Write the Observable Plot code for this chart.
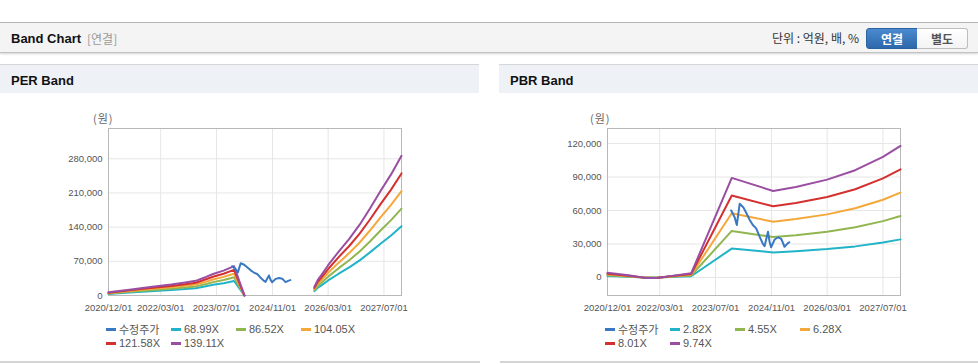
<!DOCTYPE html>
<html><head><meta charset="utf-8">
<script src="https://cdn.jsdelivr.net/npm/d3@7"></script>
<script src="https://cdn.jsdelivr.net/npm/@observablehq/plot@0.6"></script>
<style>
body{margin:0;width:978px;height:364px;overflow:hidden;background:#fff;position:relative;font-family:"Liberation Sans",Arial,"Noto Sans CJK KR",sans-serif;}
.abs{position:absolute;white-space:nowrap;}
.hdr{left:0;top:22px;width:978px;height:29px;background:#f4f4f4;border-top:1px solid #b5b5b5;border-bottom:1px solid #c2c2c2;box-shadow:0 1px 2px rgba(0,0,0,0.18);}
.ttl{font-weight:bold;font-size:13px;color:#111;}
.ptitle{top:64px;width:479px;height:28px;background:#eef2f7;border-top:1px solid #d6d6d6;}
.btn{top:28px;height:19px;width:50px;font-size:12px;font-weight:bold;text-align:center;line-height:19px;}
.unit{font-family:"Noto Sans CJK KR","Liberation Sans",sans-serif;font-size:11px;color:#666;letter-spacing:1px;}
.leg{font-size:11px;color:#555;display:flex;align-items:center;height:14px;}
.leg span.sw{display:inline-block;width:10px;height:3px;margin-right:3px;}
.sep{top:361px;height:2px;background:#d4d4d4;}
</style></head><body>
<div class="abs hdr"></div>
<div class="abs ttl" style="left:11px;top:23px;line-height:31px;">Band Chart</div>
<div class="abs" style="left:87px;top:23px;line-height:31px;font-size:12px;color:#999;font-family:'Noto Sans CJK KR',sans-serif;">[연결]</div>
<div class="abs" style="right:119px;top:22px;line-height:31px;font-size:12px;color:#333;font-family:'Noto Sans CJK KR',sans-serif;">단위 : 억원, 배, %</div>
<div class="abs btn" style="left:866px;background:linear-gradient(#4b8ad0,#2d68aa);border:1px solid #2b62a0;border-radius:3px 0 0 3px;color:#fff;font-family:'Noto Sans CJK KR',sans-serif;">연결</div>
<div class="abs btn" style="left:917px;background:linear-gradient(#fff,#f3f3f3);border:1px solid #bdbdbd;border-left:none;border-radius:0 3px 3px 0;color:#555;font-family:'Noto Sans CJK KR',sans-serif;">별도</div>

<div class="abs ptitle" style="left:0;"></div>
<div class="abs ttl" style="left:11px;top:67px;line-height:28px;">PER Band</div>
<div class="abs ptitle" style="left:499px;"></div>
<div class="abs ttl" style="left:510px;top:67px;line-height:28px;">PBR Band</div>

<div class="abs unit" style="left:93px;top:110px;">(원)</div>
<div class="abs unit" style="left:590px;top:110px;">(원)</div>

<div id="perChart" class="abs" style="left:0;top:100px;"></div>
<div id="pbrChart" class="abs" style="left:499px;top:100px;"></div>
<div id="perLegend" class="abs" style="left:106px;top:322px;width:270px;"></div>
<div id="pbrLegend" class="abs" style="left:605px;top:322px;width:270px;"></div>

<div class="abs sep" style="left:0;width:480px;"></div>
<div class="abs sep" style="left:500px;width:478px;"></div>

<script>
// ---------- shared ----------
const xTickLabels = ["2020/12/01","2022/03/01","2023/07/01","2024/11/01","2026/03/01","2027/07/01"];
const xStart = "2020-12-01", xEnd = "2027-12-01";

// adjusted stock price (수정주가)
const priceDates = ["2023-11-15","2023-12-15","2024-01-03","2024-01-15","2024-01-28","2024-02-28","2024-03-25","2024-04-22","2024-05-22","2024-06-20","2024-07-18","2024-08-18","2024-09-01","2024-10-01","2024-10-15","2024-10-28","2024-11-28","2024-12-28","2025-01-25","2025-02-22","2025-03-22","2025-04-05"];
const priceValues = [60000,54000,47000,56000,66000,63000,58000,52000,47000,44000,37000,30000,28000,41000,32000,27000,34000,36000,34500,27500,30500,31500];

// ---------- PER band ----------
const perNames = ["수정주가","68.99X","86.52X","104.05X","121.58X","139.11X"];
const perYTicks = [0,70000,140000,210000,280000];
const perDatesA = ["2020-12-01","2021-06-01","2021-12-01","2022-06-01","2022-10-01","2023-01-01","2023-04-01","2023-06-01","2023-09-01","2023-11-01","2023-12-01","2024-03-01"];
const perDatesB = ["2025-11-01","2025-12-01","2026-01-01","2026-03-01","2026-06-01","2026-09-01","2026-12-01","2027-03-01","2027-06-01","2027-09-01","2027-12-01"];
const per6899A  = [3220,5950,8680,11160,13140,14880,18850,21820,25300,28270,29760,0];
const per8652A  = [4040,7460,10890,14000,16480,18660,23640,27370,31720,35450,37320,0];
const per10405A = [4860,8980,13090,16830,19820,22440,28420,32910,38150,42640,44880,0];
const per12158A = [5680,10490,15300,19670,23160,26220,33210,38460,44570,49820,52440,0];
const per13911A = [6500,12000,17500,22500,26500,30000,38000,44000,51000,57000,60000,0];
const per6899B  = [8900,15900,20800,30800,44600,57500,71900,88300,106100,123000,141900];
const per8652B  = [11200,19900,26100,38600,56000,72200,90200,110700,133100,154300,177900];
const per10405B = [13500,23900,31400,46400,67300,86800,108500,133100,160100,185500,213900];
const per12158B = [15700,28000,36700,54200,78700,101400,126700,155600,187000,216800,250000];
const per13911B = [18000,32000,42000,62000,90000,116000,145000,178000,214000,248000,286000];

// ---------- PBR band ----------
const pbrNames = ["수정주가","2.82X","4.55X","6.28X","8.01X","9.74X"];
const pbrYTicks = [0,30000,60000,90000,120000];
const pbrDates = ["2020-12-01","2021-06-01","2021-11-01","2022-02-01","2022-06-01","2022-12-01","2023-11-20","2024-11-15","2025-06-01","2026-03-01","2026-11-01","2027-07-01","2027-12-01"];
const pbr282 = [1180,560,-140,-170,340,1070,25830,22450,23490,25380,27830,31270,34120];
const pbr455 = [1910,910,-230,-270,550,1730,41680,36220,37900,40950,44910,50460,55060];
const pbr628 = [2640,1260,-310,-380,750,2390,57530,49990,52310,56520,61980,69650,75990];
const pbr801 = [3360,1600,-400,-480,960,3040,73370,63760,66720,72090,79060,88830,96920];
const pbr974 = [4090,1950,-490,-580,1170,3700,89220,77530,81130,87660,96130,108020,117850];

const seriesColors = ["#3a78c2","#21b3c7","#91b650","#f4a83a","#d3302f","#9a4ea1"];

// ---------- build rows ----------
function seg(name, dates, vals){ return dates.map((d,i)=>({series:name, date:new Date(d), value:vals[i]})); }
function gapped(name, dA, vA, dB, vB){
  return [...seg(name,dA,vA), {series:name, date:new Date("2025-01-01"), value:NaN}, ...seg(name,dB,vB)];
}
const perRows = [
  ...gapped(perNames[1], perDatesA, per6899A, perDatesB, per6899B),
  ...gapped(perNames[2], perDatesA, per8652A, perDatesB, per8652B),
  ...gapped(perNames[3], perDatesA, per10405A, perDatesB, per10405B),
  ...gapped(perNames[4], perDatesA, per12158A, perDatesB, per12158B),
  ...gapped(perNames[5], perDatesA, per13911A, perDatesB, per13911B),
  ...seg(perNames[0], priceDates, priceValues)
];
const pbrRows = [
  ...seg(pbrNames[1], pbrDates, pbr282),
  ...seg(pbrNames[2], pbrDates, pbr455),
  ...seg(pbrNames[3], pbrDates, pbr628),
  ...seg(pbrNames[4], pbrDates, pbr801),
  ...seg(pbrNames[5], pbrDates, pbr974),
  ...seg(pbrNames[0], priceDates, priceValues)
];

const xTicks = xTickLabels.map(s => new Date(s.replace(/\//g,"-")));

function chart(rows, names, yDomain, yTicks){
  return Plot.plot({
    width: 479, height: 220,
    marginLeft: 108, marginRight: 78, marginTop: 28, marginBottom: 25,
    style: {fontFamily: "'Liberation Sans', Arial, sans-serif", fontSize: "9.5px", color: "#555", background: "transparent", overflow: "visible"},
    x: {type: "utc", domain: [new Date(xStart), new Date(xEnd)], ticks: xTicks, tickFormat: d3.utcFormat("%Y/%m/%d"), label: null, tickSize: 0, tickPadding: 9},
    y: {domain: yDomain, ticks: yTicks, tickFormat: d3.format(","), label: null, tickSize: 0, tickPadding: 6},
    color: {domain: names, range: seriesColors},
    marks: [
      Plot.gridX(xTicks, {stroke: "#e6e6e6", strokeOpacity: 1}),
      Plot.gridY(yTicks, {stroke: "#e6e6e6", strokeOpacity: 1}),
      Plot.frame({stroke: "#b8b8b8"}),
      Plot.line(rows, {x: "date", y: "value", z: "series", stroke: "series", strokeWidth: 2, strokeLinejoin: "round"})
    ]
  });
}

document.getElementById("perChart").appendChild(chart(perRows, perNames, [0, 342000], perYTicks));
document.getElementById("pbrChart").appendChild(chart(pbrRows, pbrNames, [-16200, 133500], pbrYTicks));

function legend(el, names){
  el.style.display = "grid";
  el.style.gridTemplateColumns = "repeat(4, 65px)";
  names.forEach((n,i)=>{
    const d = document.createElement("div");
    d.className = "leg";
    d.innerHTML = `<span class="sw" style="background:${seriesColors[i]}"></span><span>${n}</span>`;
    el.appendChild(d);
  });
}
legend(document.getElementById("perLegend"), perNames);
legend(document.getElementById("pbrLegend"), pbrNames);
</script>
</body></html>
